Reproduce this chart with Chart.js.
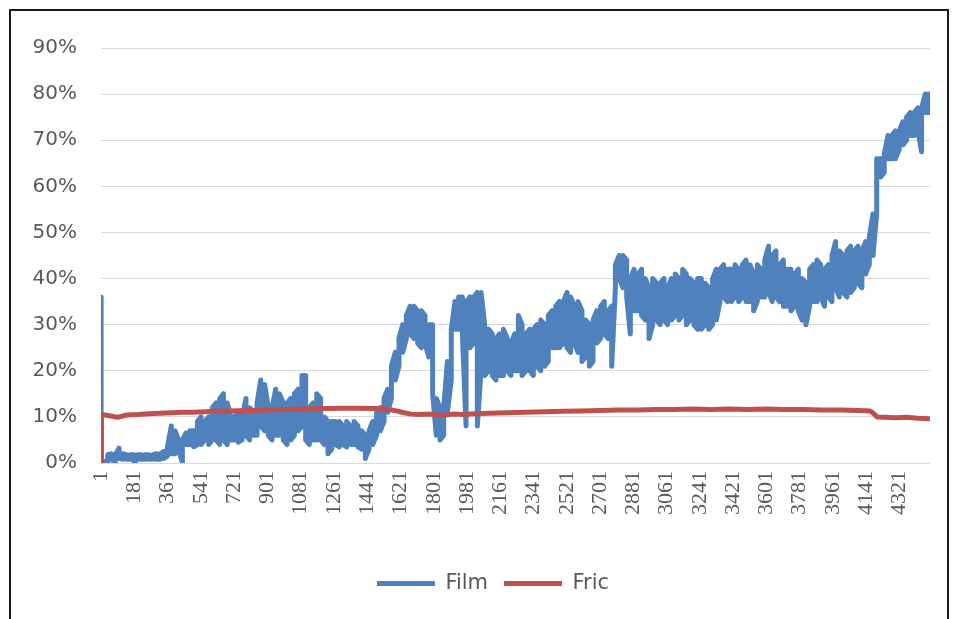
<!DOCTYPE html>
<html>
<head>
<meta charset="utf-8">
<script src="https://cdn.jsdelivr.net/npm/chart.js@4.4.1/dist/chart.umd.min.js"></script>
<style>
  html, body { margin: 0; padding: 0; background: #fff; overflow: hidden; }
  #chart { position: absolute; left: 0; top: 0; }
  #frame { position: absolute; left: 9px; top: 9px; width: 936px; height: 700px; border: 2px solid #1a1a1a; pointer-events: none; }
</style>
</head>
<body>
<canvas id="chart" width="955" height="619"></canvas>
<div id="frame"></div>
<script>
// x axis: sample number 1..4486, labelled every 180
const xTicks = [1, 181, 361, 541, 721, 901, 1081, 1261, 1441, 1621, 1801, 1981, 2161, 2341, 2521, 2701, 2881, 3061, 3241, 3421, 3601, 3781, 3961, 4141, 4321];
const yTicks = [0, 10, 20, 30, 40, 50, 60, 70, 80, 90];

const filmLow = [
  0.5, 0.3, 0.8, 0, 1, 0.8, 0.8, 0.8, 0, 0.8,
  0.8, 0.8, 0.8, 0.8, 0.8, 0.8, 1, 1.5, 2, 2,
  3, 0, 4, 4, 3.5, 4, 4, 5, 4, 5,
  5, 4, 5, 4, 5, 5, 4.5, 5, 6, 5,
  6, 6, 8, 7, 6, 5, 6, 6, 5, 4,
  5, 6, 7, 8, 5, 4, 5, 5, 5, 4,
  2, 3, 4, 3.5, 4, 3.5, 4, 4, 3.5, 3,
  1, 3, 4, 6, 7, 9, 11, 14, 18, 21,
  24, 27, 28, 27, 26, 25, 26, 23, 15, 6,
  5, 6, 11, 18, 29, 29, 28, 8, 25, 26,
  8, 20, 19, 20, 19, 18, 19, 19, 20, 19,
  20, 20, 19, 20, 20, 19, 21, 20, 21, 22,
  25, 25, 25, 26, 25, 24, 26, 24, 22, 23,
  21, 22, 26, 27, 28, 27, 21, 38, 40, 38,
  36, 28, 33, 33, 32, 31, 27, 30, 31, 30,
  31, 30, 31, 32, 31, 32, 30, 31, 30, 29,
  29, 30, 29, 30, 31, 35, 36, 35, 35, 36,
  35, 36, 35, 35, 33, 35, 36, 36, 37, 35,
  36, 35, 34, 34, 33, 34, 33, 31, 30, 34,
  35, 35, 36, 34, 36, 35, 38, 36, 37, 36,
  37, 38, 39, 38, 41, 43, 45, 54, 62, 63,
  66, 66, 66, 68, 69, 70, 71, 71, 72, 67.5,
  76, 76, 77
];
const filmHigh = [
  36, 1.8, 2, 1.8, 3.2, 2, 1.8, 1.8, 1.8, 1.8,
  1.8, 1.8, 1.8, 1.8, 2, 2, 2.5, 3.5, 8, 7,
  5, 5, 6.5, 7, 7, 9, 10, 9, 10, 12,
  13, 14, 15, 13, 10, 10, 11, 10, 14, 12,
  11, 13, 18, 17, 12, 12, 16, 15, 13, 13,
  14, 15, 16, 19, 19, 12, 13, 15, 14, 10,
  9, 9, 9, 9, 8, 9, 8, 9, 8, 7,
  6, 7, 9, 11, 12, 14, 16, 21, 24, 27,
  30, 32, 34, 34, 33, 33, 32, 30, 30, 14,
  12, 12, 22, 29, 35, 36, 36, 35, 36, 36,
  37, 37, 30, 29, 28, 27, 28, 29, 27, 26,
  28, 32, 30, 28, 29, 29, 30, 31, 30, 32,
  33, 34, 35, 35, 37, 36, 34, 35, 33, 31,
  30, 31, 33, 34, 35, 33, 34, 43, 45, 45,
  44, 40, 42, 41, 42, 40, 38, 40, 39, 39,
  40, 38, 40, 41, 40, 42, 41, 40, 39, 40,
  40, 39, 38, 40, 42, 42, 43, 42, 42, 43,
  42, 43, 44, 43, 41, 43, 42, 44, 47, 45,
  46, 43, 44, 42, 42, 41, 42, 40, 39, 42,
  43, 44, 43, 42, 43, 45, 48, 46, 45, 46,
  47, 46, 47, 46, 48, 49, 54, 66, 66, 67,
  71, 71, 72, 72, 74, 75, 76, 76, 77, 77,
  80, 80, 78
];
// sample number of each band reading (first one is sample 1, then roughly every 20)
const filmIdx = filmLow.map((_, k) => (k === 0 ? 1 : Math.round(17 + 20.2 * k)));

// Fric (%)
const fricIdx = [1, 3, 40, 90, 140, 200, 260, 320, 380, 440, 500, 560, 620, 700, 800, 900, 1000, 1100, 1200, 1300,
  1400, 1500, 1560, 1600, 1640, 1680, 1720, 1780, 1850, 1900, 1960, 2020, 2100, 2200, 2300, 2400, 2500, 2600, 2700, 2800,
  2900, 3000, 3100, 3200, 3300, 3400, 3500, 3600, 3700, 3800, 3900, 4000, 4100, 4160, 4180, 4200, 4240, 4300, 4360, 4420, 4480];
const fricVals = [0, 10.5, 10.3, 9.9, 10.4, 10.5, 10.7, 10.8, 10.9, 11.0, 11.0, 11.1, 11.2, 11.3, 11.4, 11.5, 11.6, 11.7, 11.8, 11.9,
  11.9, 11.8, 11.6, 11.3, 10.9, 10.6, 10.5, 10.6, 10.3, 10.6, 10.5, 10.7, 10.8, 10.9, 11.0, 11.1, 11.2, 11.3, 11.4, 11.5,
  11.5, 11.6, 11.6, 11.7, 11.6, 11.7, 11.6, 11.7, 11.6, 11.6, 11.5, 11.5, 11.4, 11.3, 10.8, 10.0, 9.9, 9.8, 9.9, 9.7, 9.6];

// walk the band up and down so the thick line fills it like the original
const filmPts = [];
filmIdx.forEach((x, k) => {
  const lo = { x, y: filmLow[k] }, hi = { x, y: filmHigh[k] };
  if (k % 2 === 0) filmPts.push(hi, lo); else filmPts.push(lo, hi);
});

const grey = '#595959';

// legend in the original sits centred under the plot, not under the whole canvas
const legendShift = {
  id: 'legendShift',
  afterLayout(chart) { chart.legend.left += 28; chart.legend.right += 28; }
};

new Chart(document.getElementById('chart'), {
  type: 'line',
  data: {
    datasets: [
      { label: 'Film', data: filmPts, borderColor: '#4F81BD', backgroundColor: '#4F81BD', borderWidth: 5, pointRadius: 0, tension: 0, borderJoinStyle: 'round', borderCapStyle: 'round', order: 2 },
      { label: 'Fric', data: fricIdx.map((x, i) => ({ x, y: fricVals[i] })), borderColor: '#C0504D', backgroundColor: '#C0504D', borderWidth: 5, pointRadius: 0, tension: 0, borderJoinStyle: 'round', borderCapStyle: 'round', order: 1 }
    ]
  },
  plugins: [legendShift],
  options: {
    responsive: false, animation: false,
    layout: { padding: { top: 48, right: 25, left: 0, bottom: 15 } },
    plugins: {
      tooltip: { enabled: false },
      legend: { position: 'bottom', labels: { usePointStyle: true, pointStyle: 'line', pointStyleWidth: 58, color: grey, font: { family: 'DejaVu Sans', size: 21 }, padding: 16, sort: (a, b) => a.datasetIndex - b.datasetIndex } }
    },
    scales: {
      x: {
        type: 'linear', min: 0.5, max: 4486.5,
        afterBuildTicks: s => { s.ticks = xTicks.map(v => ({ value: v })); },
        afterFit: s => { s.height = 94; },
        ticks: { autoSkip: false, minRotation: 90, maxRotation: 90, padding: 0, color: grey, font: { family: 'Liberation Serif', size: 22 }, callback: v => String(v) },
        grid: { display: false }, border: { display: false }
      },
      y: {
        min: 0, max: 90,
        afterBuildTicks: s => { s.ticks = yTicks.map(v => ({ value: v })); },
        afterFit: s => { s.width = 101; },
        ticks: { padding: 24, color: grey, font: { family: 'DejaVu Sans', size: 20 }, callback: v => v + '%' },
        grid: { color: '#d9d9d9', lineWidth: 1, drawTicks: false }, border: { display: false }
      }
    }
  }
});
</script>
</body>
</html>
